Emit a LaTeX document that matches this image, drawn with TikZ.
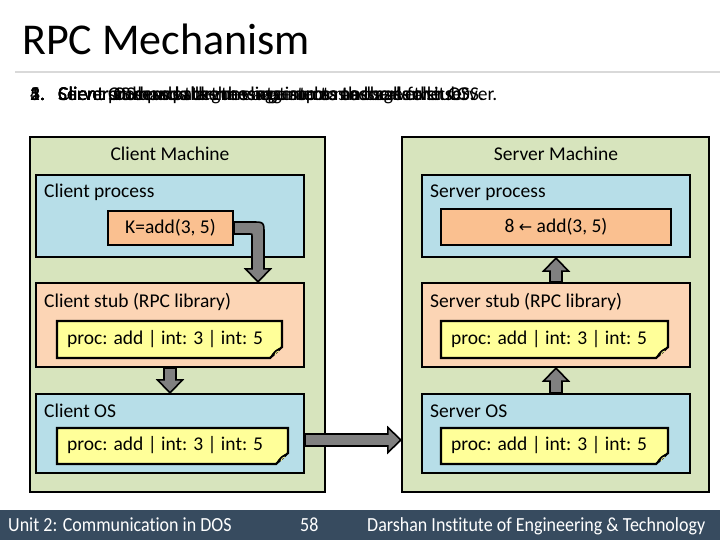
\documentclass[tikz,border=0pt]{standalone}
\usepackage{fontspec}
\setmainfont{Carlito}[Ligatures=NoCommon]
\newfontfamily\symfont{DejaVu Sans}
\usetikzlibrary{calc,fit}
\definecolor{machinec}{HTML}{D7E4BD}
\definecolor{procc}{HTML}{B7DEE8}
\definecolor{stubc}{HTML}{FCD5B5}
\definecolor{callc}{HTML}{FAC090}
\definecolor{notec}{HTML}{FFFF99}
\definecolor{footc}{HTML}{374B5F}
\definecolor{arrowc}{HTML}{808080}
\definecolor{rulec}{HTML}{D9D9D9}
\newcommand\notebox[6]{%
  \path[fill=notec, draw=black, line width=2.2pt, line join=miter]
    (#2,#3) -- (#4,#3) -- (#4,#5-11) -- (#4-12,#5) -- (#2,#5) -- cycle;
  \fill[black] (#4,#5-11) .. controls (#4-6,#5-9) and (#4-9,#5-7) .. (#4-12,#5) -- cycle;
  \draw[notec, line width=0.8pt] (#4-3,#5-7) .. controls (#4-6,#5-6) .. (#4-7,#5-3);
  \node[lbl, anchor=base west] (#1) at (#2+10,#5-14) {#6};}
\newcommand\fatarrow[3]{%
  \coordinate (#3H) at ($(#2)!13pt!(#1)$);
  \draw[fat] ($(#1)!6pt!90:(#2)$) -- ($(#3H)!6pt!90:(#2)$) -- ($(#3H)!12.5pt!90:(#2)$)
    -- (#2) -- ($(#3H)!12.5pt!-90:(#2)$) -- ($(#3H)!6pt!-90:(#2)$) -- ($(#1)!6pt!-90:(#2)$) -- cycle;}
\begin{document}
\begin{tikzpicture}[x=1pt,y=-1pt,
  box/.style={draw=black, line width=2.2pt, inner sep=0pt},
  lbl/.style={font=\fontsize{19.5}{22}\selectfont, inner sep=0pt},
  fat/.style={fill=arrowc, draw=black, line width=1.6pt, line join=miter},
  foot/.style={text=white, inner sep=0pt, anchor=base west, font=\fontsize{20}{22}\selectfont},
  steptext/.style={inner sep=0pt, anchor=base west, font=\fontsize{19.5}{22}\selectfont}]
\useasboundingbox (0,0) rectangle (720,540);
\fill[white] (0,0) rectangle (720,540);
% title
\node[inner sep=0pt, anchor=base west, font=\fontsize{44}{48}\selectfont] (title) at (22,55) {RPC Mechanism};
\draw[rulec, line width=1.2pt] (15,72) -- (720,72);
% overlapping step texts (animation steps printed on top of each other)
\foreach \n/\t [count=\i] in {1./Client process calls the client stub as a local call.,
  2./Client stub packs arguments into a message for its OS.,
  3./Client OS sends the message across to the server OS.,
  4./Server OS hands the message up to the server stub.,
  5./Server stub unpacks the arguments and calls the server.}{
  \node[steptext] (num\i) at (30,101) {\n};
  \node[steptext] (step\i) at (58,101) {\t};
}
% client machine
\node[box, fill=machinec, fit={(30,137)(325,492)}] (cm) {};
\node[box, fill=procc, fit={(36,175)(304,257)}] (cproc) {};
\node[box, fill=callc, fit={(108,211)(233,245)}] (K) {};
\node[lbl] (Kt) at (K.center) {K=add(3, 5)};
\node[box, fill=stubc, fit={(36,283)(304,367)}] (cstub) {};
\node[box, fill=procc, fit={(36,394)(304,473)}] (cos) {};
\node[lbl, anchor=base] (cml) at (170,160.5) {Client Machine};
\node[lbl, anchor=base west] (cpl) at (44,198) {Client process};
\node[lbl, anchor=base west] (csl) at (44,307) {Client stub (RPC library)};
\node[lbl, anchor=base west] (col) at (44,417) {Client OS};
\notebox{cnote1}{57}{321}{282}{358}{proc: add | int: 3 | int: 5}
\notebox{cnote2}{57}{428}{288}{464}{proc: add | int: 3 | int: 5}
% server machine
\node[box, fill=machinec, fit={(402,137)(709,492)}] (sm) {};
\node[box, fill=procc, fit={(422,175)(690,257)}] (sproc) {};
\node[box, fill=callc, fit={(441,209)(671,245)}] (E) {};
\node[lbl] (Et) at (E.center) {8 {\symfont\fontsize{16}{18}\selectfont ←} add(3, 5)};
\node[box, fill=stubc, fit={(422,283)(690,367)}] (sstub) {};
\node[box, fill=procc, fit={(422,394)(690,473)}] (sos) {};
\node[lbl, anchor=base] (sml) at (556,160.5) {Server Machine};
\node[lbl, anchor=base west] (spl) at (430,198) {Server process};
\node[lbl, anchor=base west] (ssl) at (430,307) {Server stub (RPC library)};
\node[lbl, anchor=base west] (sol) at (430,417) {Server OS};
\notebox{snote1}{441}{321}{668}{358}{proc: add | int: 3 | int: 5}
\notebox{snote2}{441}{428}{668}{464}{proc: add | int: 3 | int: 5}
% arrows
\coordinate (bt) at ($(cstub.north)+(88,0)$);
\draw[fat] let \p1=(K.east), \p2=(bt) in
  (\x1,\y1+6pt) -- (\x2-6pt,\y1+6pt) .. controls (\x2+6pt,\y1+6pt) .. (\x2+6pt,\y1-6pt)
  -- (\x2+6pt,\y2+13pt) -- (\x2+12.5pt,\y2+13pt) -- (\x2,\y2) -- (\x2-12.5pt,\y2+13pt)
  -- (\x2-6pt,\y2+13pt) -- (\x2-6pt,\y1-8pt) .. controls (\x2-6pt,\y1-6pt) .. (\x2-8pt,\y1-6pt)
  -- (\x1,\y1-6pt) -- cycle;
\fatarrow{cstub.south}{cos.north}{a1}
\coordinate (hs) at ([yshift=-6.5pt]cos.east);
\coordinate (he) at (hs -| sm.west);
\fatarrow{hs}{he}{a2}
\fatarrow{sos.north}{sstub.south}{a3}
\fatarrow{sstub.north}{sproc.south}{a4}
% footer
\fill[footc] (0,510) rectangle (720,540);
\node[foot] (f1) at (8,531) {\scalebox{0.9}[1]{Unit 2: Communication in DOS}};
\node[foot] (f2) at (300,531) {\scalebox{0.9}[1]{58}};
\node[foot] (f3) at (367,531) {\scalebox{0.9}[1]{Darshan Institute of Engineering \& Technology}};
\end{tikzpicture}
\end{document}
